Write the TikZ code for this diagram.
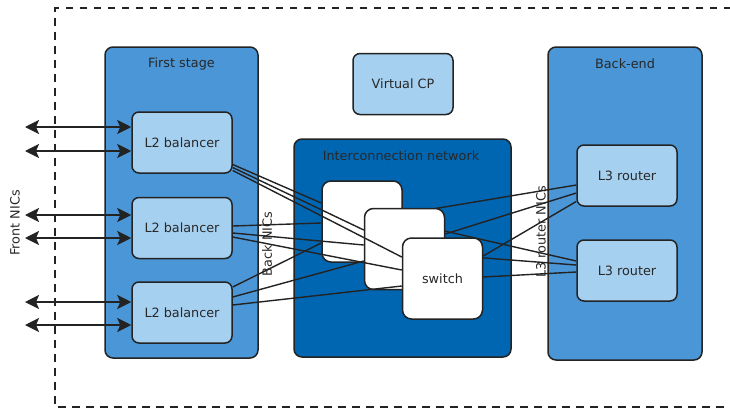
\documentclass[tikz,border=0pt]{standalone}
\usepackage{fontspec}
\setmainfont{DejaVu Sans}
\usetikzlibrary{arrows.meta}

\definecolor{stageblue}{RGB}{74,150,214}
\definecolor{boxblue}{RGB}{166,208,240}
\definecolor{netblue}{RGB}{0,102,178}
\definecolor{edgegray}{RGB}{35,35,35}
\definecolor{textgray}{RGB}{40,40,40}

\begin{document}
\begin{tikzpicture}[x=1pt, y=-1pt,
    every node/.style={font=\fontsize{12.8}{14}\selectfont, text=textgray},
    stagebox/.style={draw=edgegray, line width=1.5pt, fill=stageblue, rounded corners=8pt, inner sep=0pt},
    unitbox/.style={draw=edgegray, line width=1.5pt, fill=boxblue, rounded corners=7pt,
      minimum width=100pt, minimum height=61pt, inner sep=0pt},
    switchbox/.style={draw=edgegray, line width=1.5pt, fill=white, rounded corners=9pt,
      minimum width=80pt, minimum height=81pt, inner sep=0pt},
    link/.style={draw=edgegray, line width=1.4pt},
    nic/.style={draw=edgegray, line width=2.2pt,
      {Stealth[length=14pt,width=14pt,inset=3pt]}-{Stealth[length=14pt,width=14pt,inset=3pt]}},
    frame/.style={draw=edgegray, line width=2.8pt, dash pattern=on 7.5pt off 6.5pt}
  ]
  \clip (0,0) rectangle (730,413);
  \draw[frame] (745,8) -- (55,8) -- (55,407) -- (745,407);

  % big blocks
  \node[stagebox, minimum width=153pt, minimum height=311pt] (stage) at (181.5,202.5) {};
  \node (stagetitle) at (181.5,64) {First stage};
  \node[stagebox, minimum width=154pt, minimum height=313pt] (backend) at (625,203.5) {};
  \node (backendtitle) at (625,64) {Back-end};
  \node[unitbox] (vcp) at (403,84) {Virtual CP};
  \node[stagebox, fill=netblue, minimum width=217pt, minimum height=218pt] (net) at (402.5,248) {};
  \node (nettitle) at (401,156) {Interconnection network};

  \node[unitbox] (l2a) at (182,142.5) {L2 balancer};
  \node[unitbox] (l2b) at (182,228) {L2 balancer};
  \node[unitbox] (l2c) at (182,312.5) {L2 balancer};
  \node[unitbox] (l3a) at (627,175.5) {L3 router};
  \node[unitbox] (l3b) at (627,270.5) {L3 router};

  \node[rotate=90] (frontnic) at (15,223) {Front NICs};
  \node[rotate=90] (backnic) at (267,244) {Back NICs};
  \node[rotate=90] (l3nic) at (541,232) {L3 router NICs};

  % front NICs
  \coordinate (f1) at (25,127);
  \coordinate (f2) at (25,151);
  \coordinate (f3) at (25,215);
  \coordinate (f4) at (25,238);
  \coordinate (f5) at (25,302);
  \coordinate (f6) at (25,325);
  \draw[nic] (f1) -- (f1 -| l2a.west);
  \draw[nic] (f2) -- (f2 -| l2a.west);
  \draw[nic] (f3) -- (f3 -| l2b.west);
  \draw[nic] (f4) -- (f4 -| l2b.west);
  \draw[nic] (f5) -- (f5 -| l2c.west);
  \draw[nic] (f6) -- (f6 -| l2c.west);

  % switches, each one with its links
  \node[switchbox] (sw1) at (362,221.5) {};
  \draw[link] ([yshift=-22pt]l2a.east) -- ([yshift=18.5pt]sw1.west);
  \draw[link] ([yshift=2pt]l2b.east) -- ([yshift=-1.5pt]sw1.west);
  \draw[link] ([yshift=25.5pt]l2c.east) -- ([yshift=-21.5pt]sw1.west);
  \draw[link] ([yshift=7.5pt]sw1.east) -- ([yshift=-9.5pt]l3a.west);
  \draw[link] (sw1.east) -- ([yshift=9.5pt]l3b.west);

  \node[switchbox] (sw2) at (404.5,249) {};
  \draw[link] ([yshift=-25pt]l2a.east) -- ([yshift=19pt]sw2.west);
  \draw[link] ([yshift=-5pt]l2b.east) -- ([yshift=4pt]sw2.west);
  \draw[link] ([yshift=15.5pt]l2c.east) -- ([yshift=-12pt]sw2.west);
  \draw[link] ([yshift=15pt]sw2.east) -- ([yshift=-17.5pt]l3a.west);
  \draw[link] ([yshift=-6pt]sw2.east) -- ([yshift=5.5pt]l3b.west);

  \node[switchbox] (sw3) at (442.5,278.5) {switch};
  \draw[link] ([yshift=-28pt]l2a.east) -- ([yshift=21.5pt]sw3.west);
  \draw[link] ([yshift=-9pt]l2b.east) -- ([yshift=8.5pt]sw3.west);
  \draw[link] ([yshift=7.5pt]l2c.east) -- ([yshift=-7.5pt]sw3.west);
  \draw[link] ([yshift=22.5pt]sw3.east) -- ([yshift=-26pt]l3a.west);
  \draw[link] ([yshift=1.5pt]sw3.east) -- ([yshift=-1.5pt]l3b.west);
\end{tikzpicture}
\end{document}
